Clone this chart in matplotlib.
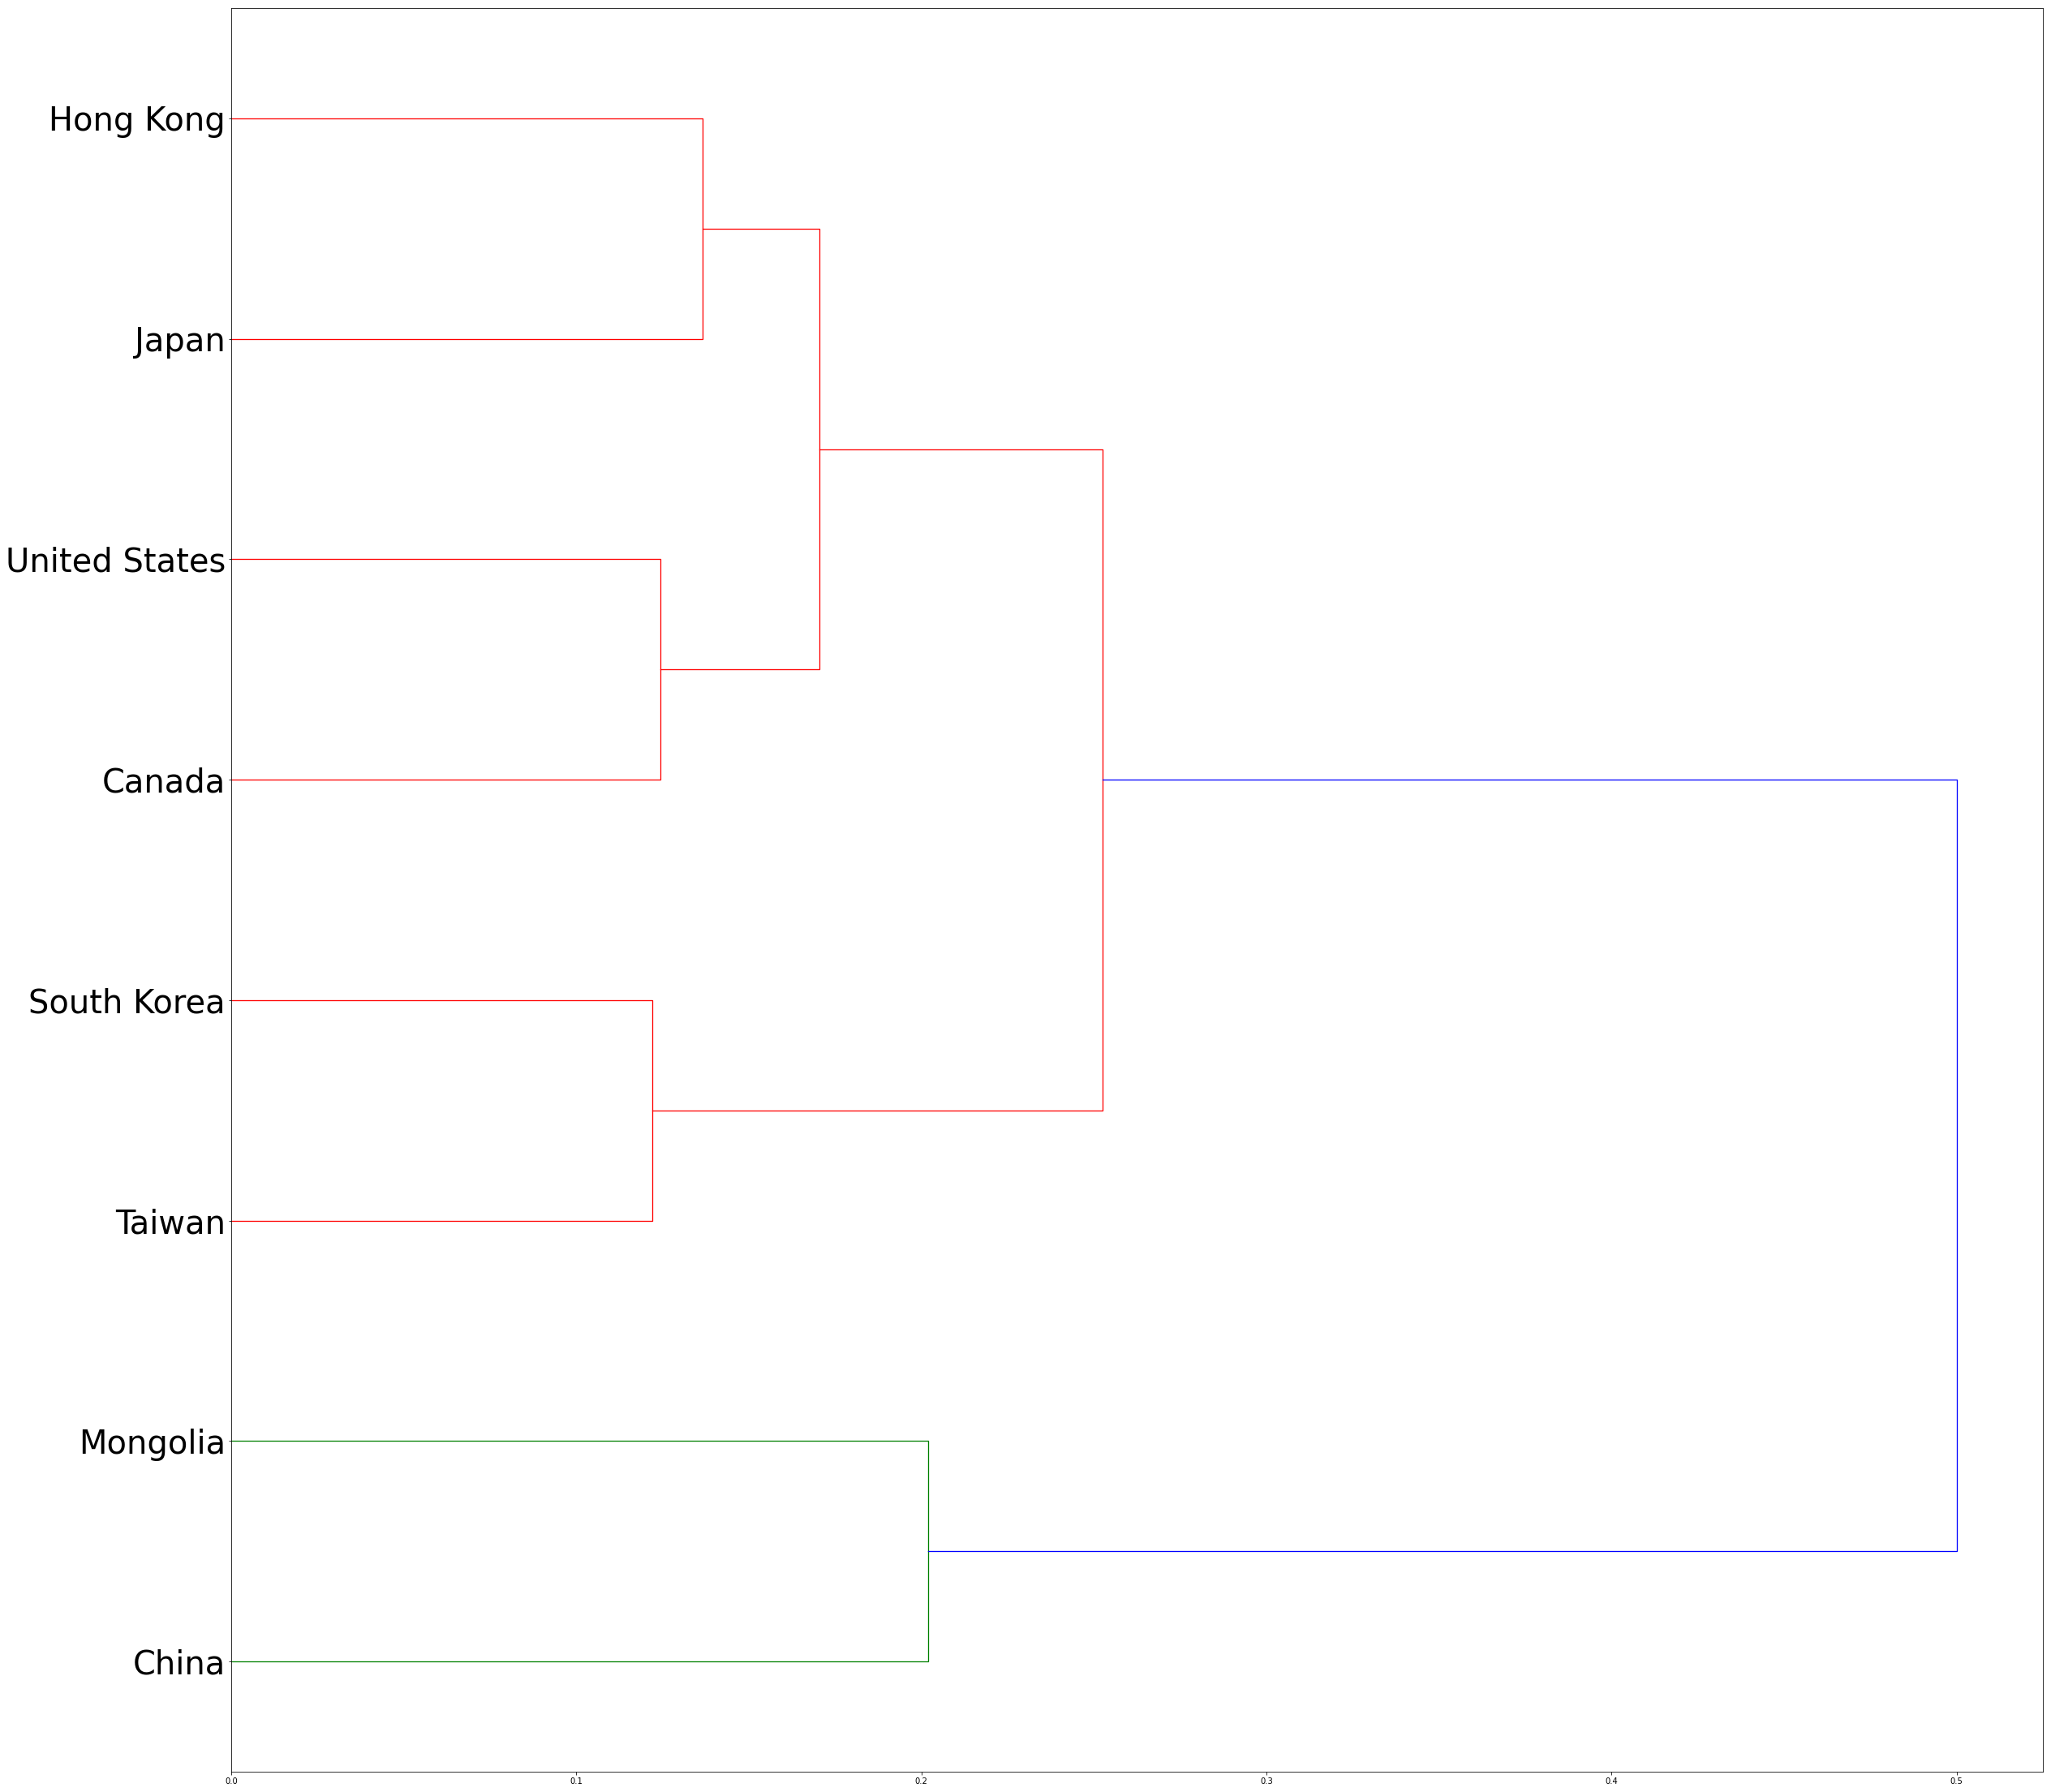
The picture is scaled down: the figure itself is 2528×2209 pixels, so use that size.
import numpy as np
import matplotlib.pyplot as plt

# leaves in display order, bottom to top
labels = ['China', 'Mongolia', 'Taiwan', 'South Korea',
          'Canada', 'United States', 'Japan', 'Hong Kong']

# linkage: (left cluster, right cluster, distance); new ids start at len(labels)
merge_a = [0, 2, 4, 6, 10, 9, 8]
merge_b = [1, 3, 5, 7, 11, 12, 13]
merge_h = [0.2020, 0.1220, 0.1243, 0.1366, 0.1705, 0.2524, 0.5000]
merge_c = ['g', 'r', 'r', 'r', 'r', 'r', 'b']

n = len(labels)
pos = {i: 5 + 10 * i for i in range(n)}
hgt = {i: 0.0 for i in range(n)}

fig = plt.figure(figsize=(2528 / 72, 2209 / 72), dpi=72)
ax = fig.add_axes([285 / 2528, 25 / 2209, (2518 - 285) / 2528, (2199 - 25) / 2209])

for k in range(len(merge_h)):
    a, b, h = merge_a[k], merge_b[k], merge_h[k]
    ya, yb = pos[a], pos[b]
    ax.plot([hgt[a], h, h, hgt[b]], [ya, ya, yb, yb], color=merge_c[k], lw=1.3)
    pos[n + k] = (ya + yb) / 2
    hgt[n + k] = h

ax.set_xlim(0, max(merge_h) * 1.05)
ax.set_ylim(0, 10 * n)
ax.set_yticks([5 + 10 * i for i in range(n)])
ax.set_yticklabels(labels, fontsize=40)
for line in ax.get_yticklines():
    line.set_visible(False)
ax.xaxis.set_ticks_position('bottom')
ax.yaxis.set_ticks_position('left')

fig.savefig('out.png', dpi=72)
